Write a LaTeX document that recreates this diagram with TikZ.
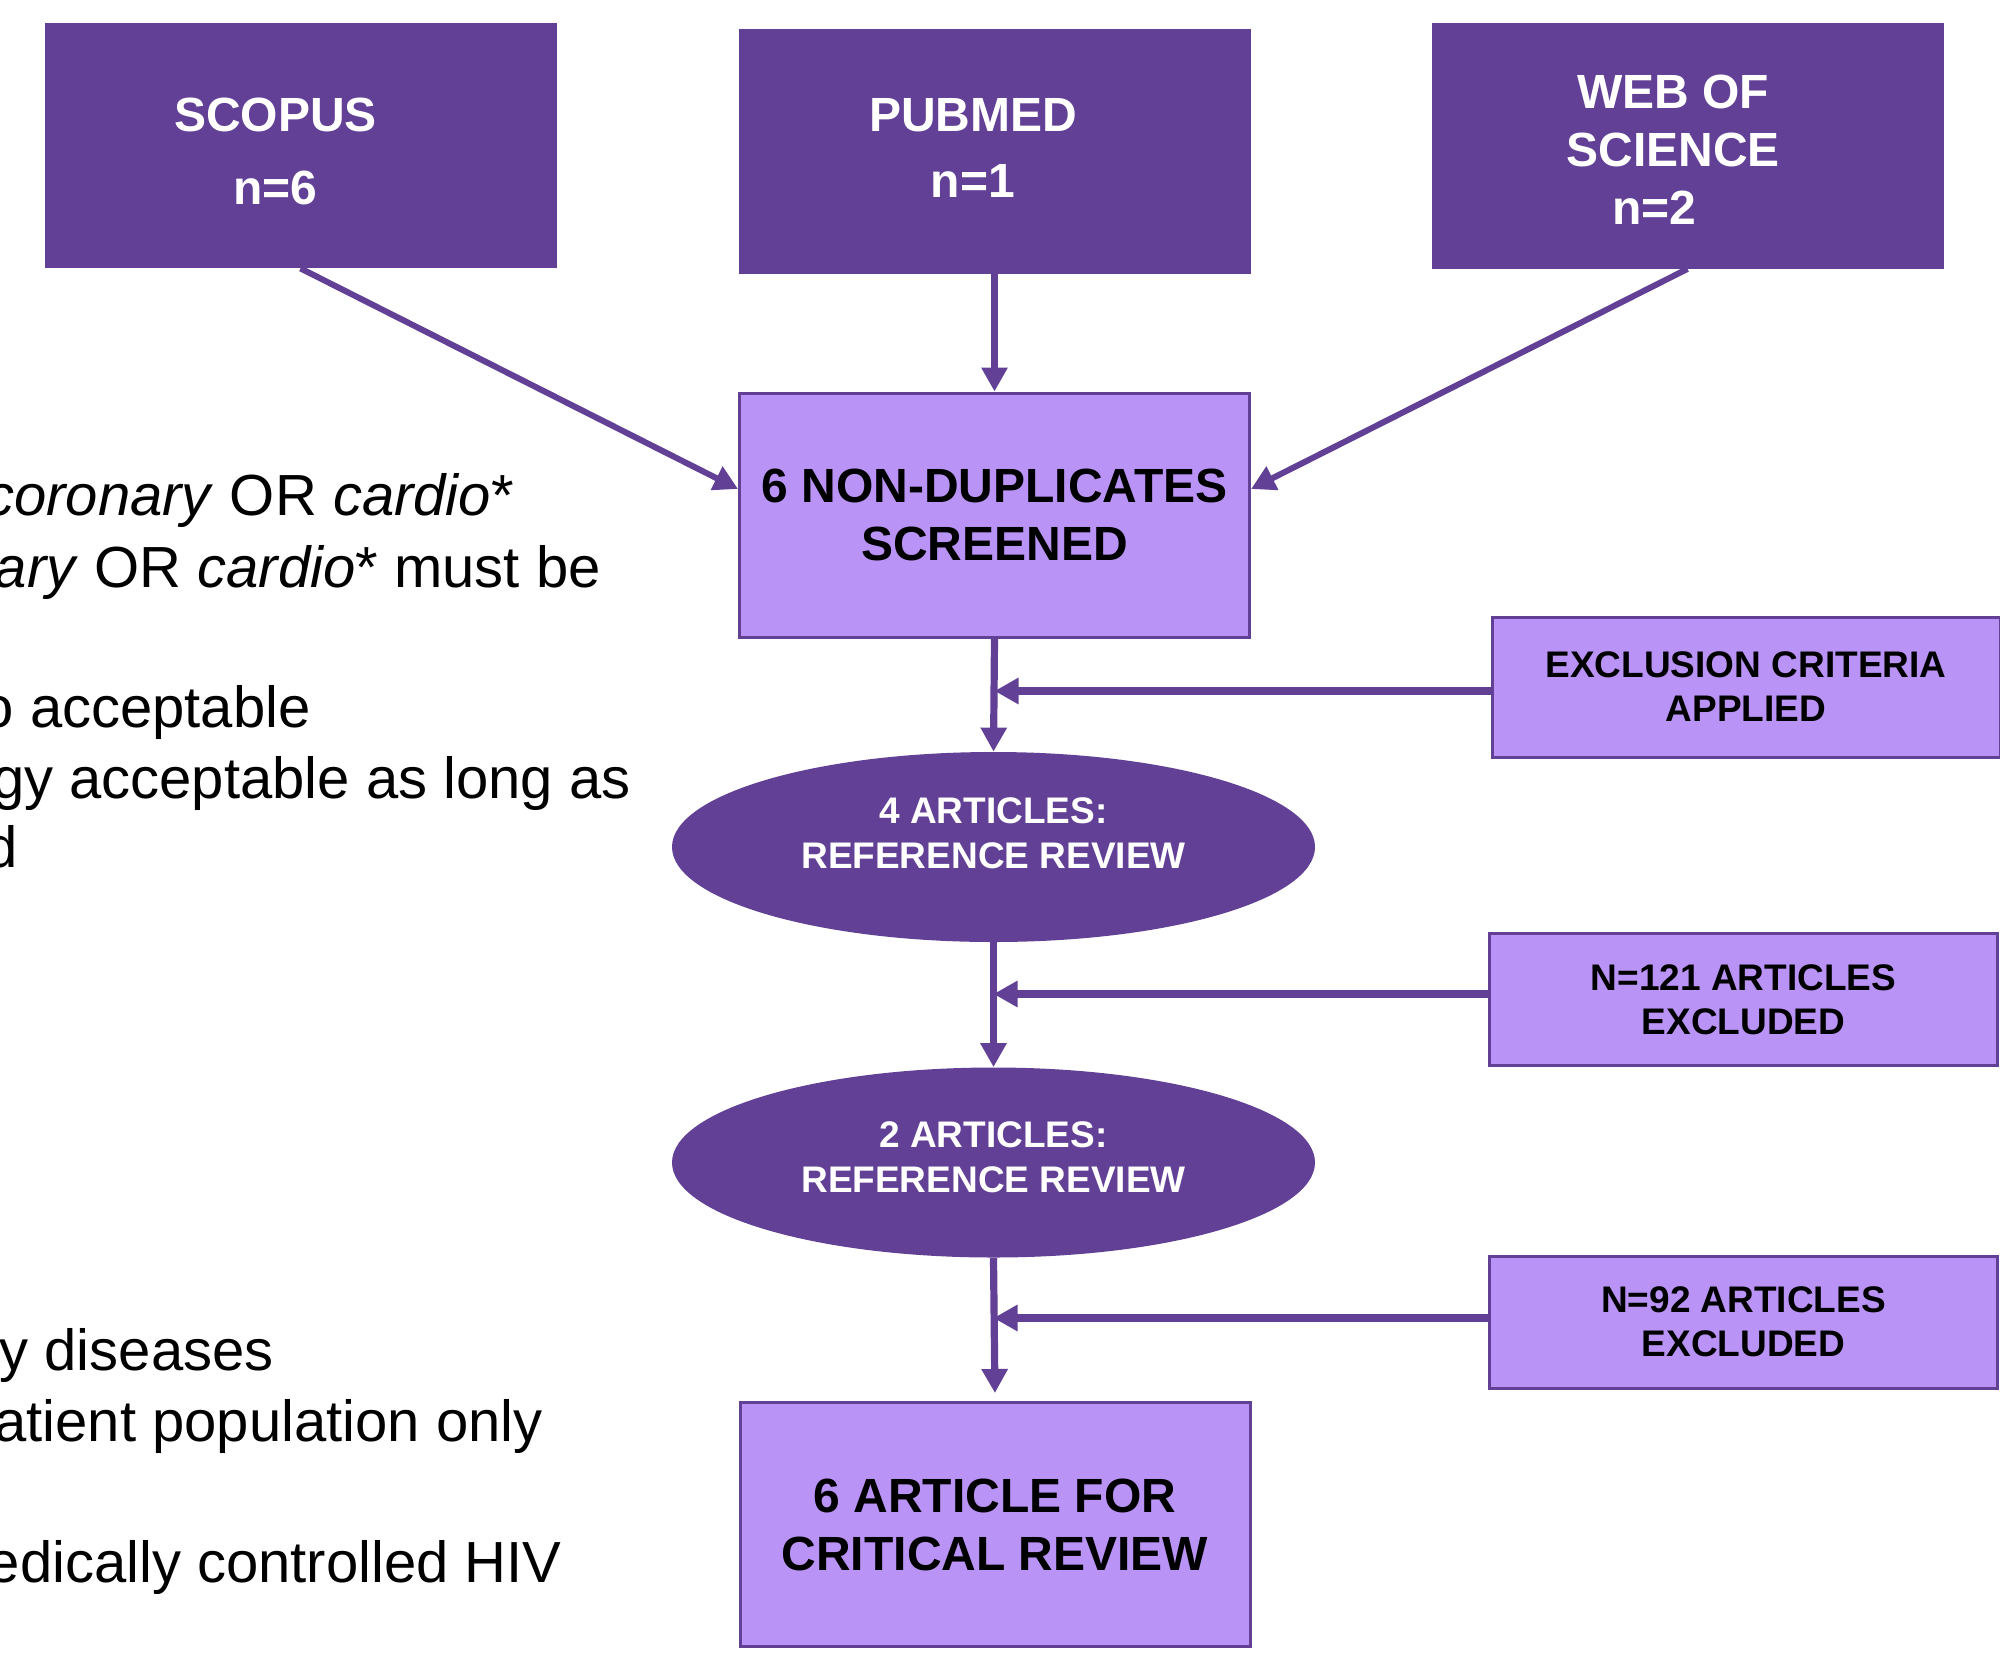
\documentclass[tikz,border=0pt]{standalone}
\usepackage{fontspec}
\setmainfont{Liberation Sans}
\usetikzlibrary{arrows.meta,shapes.geometric,calc}

\definecolor{darkpurple}{RGB}{97,64,150}
\definecolor{lightpurple}{RGB}{185,147,245}

\begin{document}
\begin{tikzpicture}[x=0.5pt,y=-0.5pt,
    sourcebox/.style={rectangle,fill=darkpurple,inner sep=0pt,
      minimum width=256pt,minimum height=122.5pt},
    sourcetext/.style={text=white,inner sep=0pt,align=center,
      font=\fontsize{24}{29}\selectfont\bfseries},
    stagebox/.style={rectangle,draw=darkpurple,line width=1.5pt,fill=lightpurple,
      inner sep=0pt,minimum width=255pt,minimum height=122pt,align=center,
      font=\fontsize{24}{29}\selectfont\bfseries},
    dropbox/.style={rectangle,draw=darkpurple,line width=1.5pt,fill=lightpurple,
      inner sep=0pt,minimum width=254pt,minimum height=66pt,align=center,
      font=\fontsize{18.5}{22}\selectfont\bfseries},
    reviewoval/.style={ellipse,fill=darkpurple,inner sep=0pt,
      minimum width=321.5pt,minimum height=95pt},
    ovaltext/.style={text=white,inner sep=0pt,align=center,
      font=\fontsize{18.5}{22.5}\selectfont\bfseries},
    flow/.style={draw=darkpurple,line width=3.6pt,
      -{Triangle[length=12pt,width=12.5pt]}},
    crit/.style={anchor=base east,inner sep=0pt,
      font=\fontsize{29}{35}\selectfont}
  ]

    \useasboundingbox (0,0) rectangle (2000,1659);
    \clip (0,0) rectangle (2000,1659);

    % criteria text, cut at the left edge
    \node[crit] (crit1) at (514,515) {\textit{coronary} OR \textit{cardio}*};
    \node[crit] (crit2) at (601,587) {\textit{ary} OR \textit{cardio}* must be};
    \node[crit] (crit3) at (311,727) {o acceptable};
    \node[crit] (crit4) at (631,798) {gy acceptable as long as};
    \node[crit] (crit5) at (18,867) {d};
    \node[crit] (crit6) at (274,1370) {y diseases};
    \node[crit] (crit7) at (543,1441) {atient population only};
    \node[crit] (crit8) at (562,1582) {edically controlled HIV};

    % databases
    \node[sourcebox,label={[sourcetext,name=scopustext,xshift=-12.5pt,yshift=-2.75pt]center:{SCOPUS\\[7.5pt]n=6}}]
      (scopus) at (300.5,145.5) {};
    \node[sourcebox,label={[sourcetext,name=pubmedtext,xshift=-10.75pt,yshift=1.75pt]center:{PUBMED\\[4pt]n=1}}]
      (pubmed) at (994.5,151.5) {};
    \node[sourcebox,label={[sourcetext,name=wostext,xshift=-7.25pt,yshift=-2pt]center:{WEB OF\\SCIENCE\\n=2\hspace*{19pt}}}]
      (wos) at (1687.5,146) {};

    % screening stages
    \node[stagebox] (nondup) at (994.5,515) {6 NON-DUPLICATES\\SCREENED};
    \node[reviewoval,label={[ovaltext,name=review4text,yshift=6.75pt]center:{4 ARTICLES:\\REFERENCE REVIEW}}]
      (review4) at (993.5,847) {};
    \node[reviewoval,label={[ovaltext,name=review2text,yshift=2.5pt]center:{2 ARTICLES:\\REFERENCE REVIEW}}]
      (review2) at (993.5,1162.5) {};
    \node[stagebox] (final) at (995,1524.5) {6 ARTICLE FOR\\CRITICAL REVIEW};

    % exclusions
    \node[dropbox,minimum height=70pt] (criteria) at (1746,687) {EXCLUSION CRITERIA\\APPLIED};
    \node[dropbox] (drop121) at (1743.5,999.5) {N=121 ARTICLES\\EXCLUDED};
    \node[dropbox] (drop92) at (1743.5,1322) {N=92 ARTICLES\\EXCLUDED};

    % connectors
    \draw[flow,line width=3pt] (scopus.south) -- ($(nondup.west)+(0,-26)$);
    \draw[flow,line width=3pt] (wos.south) -- ($(nondup.east)+(0,-26)$);
    \draw[flow] (pubmed.south -| nondup.north) -- (nondup.north);
    \draw[flow] (nondup.south) -- (review4.north);
    \draw[flow] (review4.south) -- (review2.north);
    \draw[flow,shorten >=4pt] (review2.south) -- (final.north);
    \draw[flow] ($(criteria.west)+(0,4)$) -- ($(criteria.west -| nondup.south)+(0,4)$);
    \draw[flow] ($(drop121.west)+(0,-5.5)$) -- ($(drop121.west -| review4.south)+(0,-5.5)$);
    \draw[flow] ($(drop92.west)+(0,-4)$) -- ($(drop92.west -| review2.south)+(0,-4)$);

\end{tikzpicture}
\end{document}
